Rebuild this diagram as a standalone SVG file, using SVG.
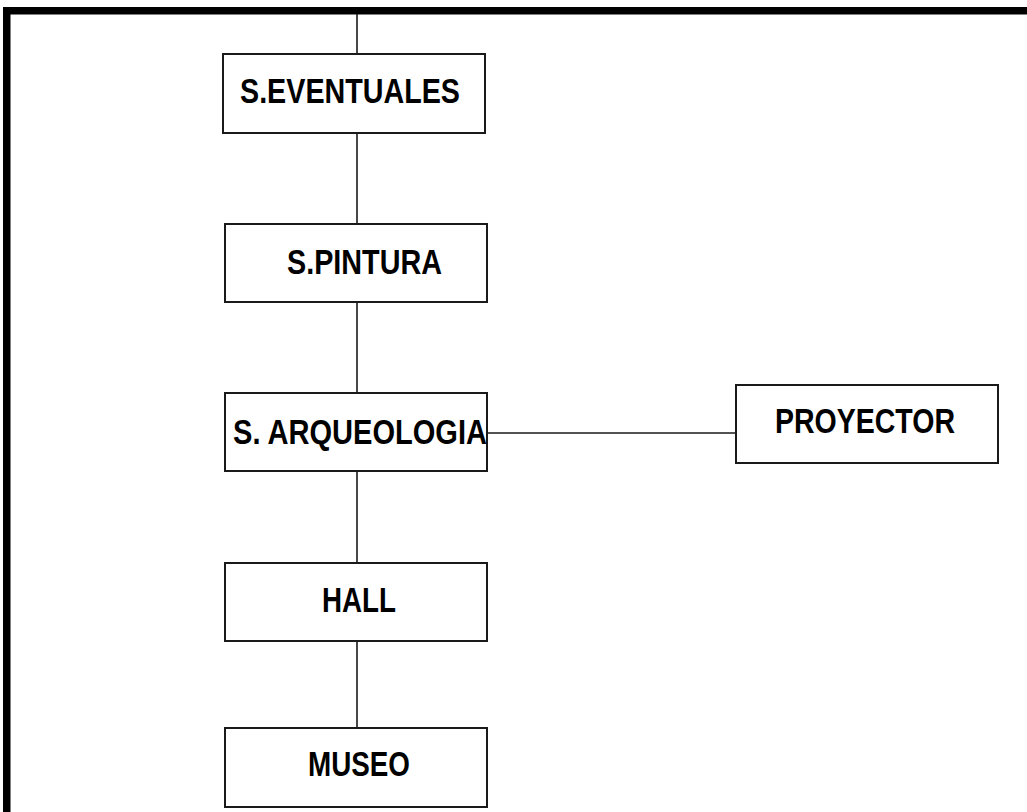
<svg xmlns="http://www.w3.org/2000/svg" width="1027" height="812" viewBox="0 0 1027 812">
<style>
.box{fill:#fff;stroke:#1a1a1a;stroke-width:2}
.lbl{font-family:"Liberation Sans Narrow","Liberation Sans",Arial,sans-serif;font-weight:bold;font-size:35px;fill:#000}
.con{stroke:#1a1a1a;stroke-width:1.6;fill:none}
</style>
<rect width="1027" height="812" fill="#fff"/>
<g id="frame">
<rect x="3" y="7" width="1024" height="7.5" fill="#000"/>
<rect x="3" y="7" width="7.5" height="805" fill="#000"/>
</g>
<g id="connectors">
<line class="con" x1="357" y1="14" x2="357" y2="54"/>
<line class="con" x1="357" y1="133" x2="357" y2="224"/>
<line class="con" x1="357" y1="302" x2="357" y2="393"/>
<line class="con" x1="357" y1="471" x2="357" y2="563"/>
<line class="con" x1="357" y1="641" x2="357" y2="728"/>
<line class="con" x1="487" y1="433" x2="736" y2="433"/>
</g>
<g id="n-eventuales">
<rect class="box" x="223" y="54" width="262" height="79"/>
<text class="lbl" x="240" y="103" textLength="220" lengthAdjust="spacingAndGlyphs">S.EVENTUALES</text>
</g>
<g id="n-pintura">
<rect class="box" x="225" y="224" width="262" height="78"/>
<text class="lbl" x="287" y="274" textLength="155" lengthAdjust="spacingAndGlyphs">S.PINTURA</text>
</g>
<g id="n-arqueologia">
<rect class="box" x="225" y="393" width="262" height="78"/>
<text class="lbl" x="233" y="444" textLength="254" lengthAdjust="spacingAndGlyphs">S. ARQUEOLOGIA</text>
</g>
<g id="n-proyector">
<rect class="box" x="736" y="385" width="262" height="78"/>
<text class="lbl" x="775" y="433" textLength="180" lengthAdjust="spacingAndGlyphs">PROYECTOR</text>
</g>
<g id="n-hall">
<rect class="box" x="225" y="563" width="262" height="78"/>
<text class="lbl" x="322" y="612" textLength="74" lengthAdjust="spacingAndGlyphs">HALL</text>
</g>
<g id="n-museo">
<rect class="box" x="225" y="728" width="262" height="79"/>
<text class="lbl" x="308" y="776" textLength="102" lengthAdjust="spacingAndGlyphs">MUSEO</text>
</g>
</svg>
